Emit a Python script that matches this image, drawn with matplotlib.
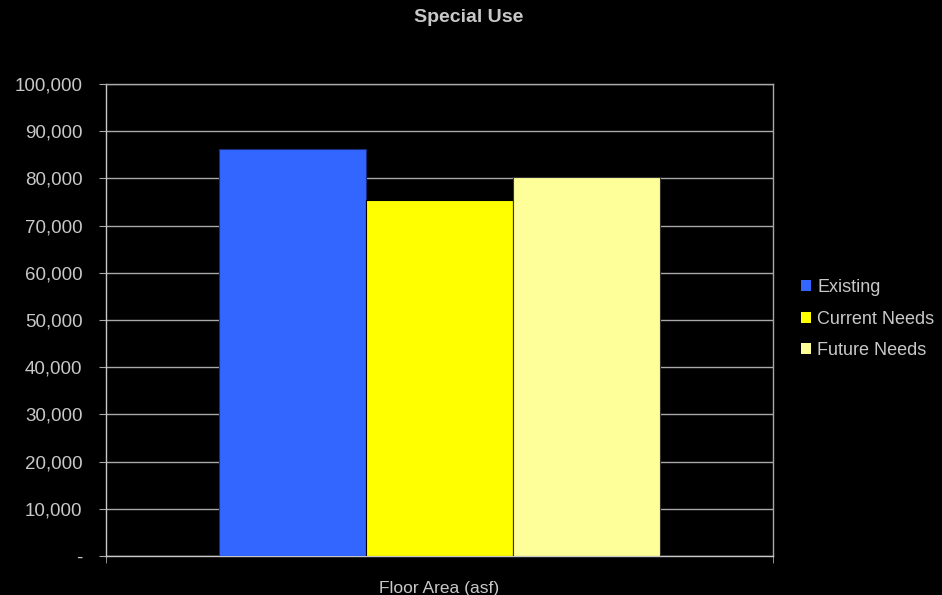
import numpy as np
import matplotlib.pyplot as plt
from matplotlib.ticker import FuncFormatter
from matplotlib.patches import Patch

plt.rcParams['font.family'] = ['Liberation Sans', 'DejaVu Sans']

series = ['Existing', 'Current Needs', 'Future Needs']
values = [86200, 75400, 80300]
colors = ['#3366FF', '#FFFF00', '#FFFF99']
edges = ['#1A2F80', '#000000', '#333333']
category = 'Floor Area (asf)'

TXT = '#C8C8C8'
GRID = '#A8A8A8'


def fmt(v, pos):
    if v == 0:
        return '-'
    return f"{int(v):,}"


fig = plt.figure(figsize=(9.42, 5.95), dpi=100, facecolor='black')
ax = fig.add_axes([106 / 942, 1 - 556 / 595, 667 / 942, 472 / 595])
ax.set_facecolor('black')

width = 0.2204
offsets = (np.arange(len(series)) - 1) * width
for off, v, c, e, name in zip(offsets, values, colors, edges, series):
    ax.bar(off, v, width=width, color=c, edgecolor=e, linewidth=0.8, zorder=3, label=name)

ax.set_xlim(-0.5, 0.5)
ax.set_ylim(0, 100000)
ax.set_yticks(np.arange(0, 100001, 10000))
ax.yaxis.set_major_formatter(FuncFormatter(fmt))
ax.grid(axis='y', color=GRID, linewidth=1, zorder=0)

ax.set_xticks([0])
ax.set_xticklabels([category])
ax.set_xticks([-0.5, 0.5], minor=True)
ax.tick_params(axis='x', which='major', length=0, pad=18, labelsize=12.5, labelcolor=TXT)
ax.tick_params(axis='x', which='minor', length=5, color=GRID)
ax.tick_params(axis='y', length=5, color=GRID, labelsize=13.5, labelcolor=TXT, pad=12)

for s in ax.spines.values():
    s.set_color(GRID)
    s.set_linewidth(1)
ax.spines['left'].set_color('#C8C8C8')
ax.spines['bottom'].set_color('#C8C8C8')

fig.text(469 / 942, 1 - 18 / 595, 'Special Use', ha='center', va='center',
         color=TXT, fontsize=14, fontweight='bold')

handles = [Patch(facecolor=c, edgecolor='none') for c in colors]
fig.legend(handles, series, loc='center left', bbox_to_anchor=(792 / 942, 1 - 319 / 595),
           frameon=False, fontsize=13, labelcolor=TXT, handlelength=0.55, handleheight=0.55,
           handletextpad=0.35, labelspacing=0.82, borderpad=0)

fig.savefig('out.png', dpi=100, facecolor='black')
